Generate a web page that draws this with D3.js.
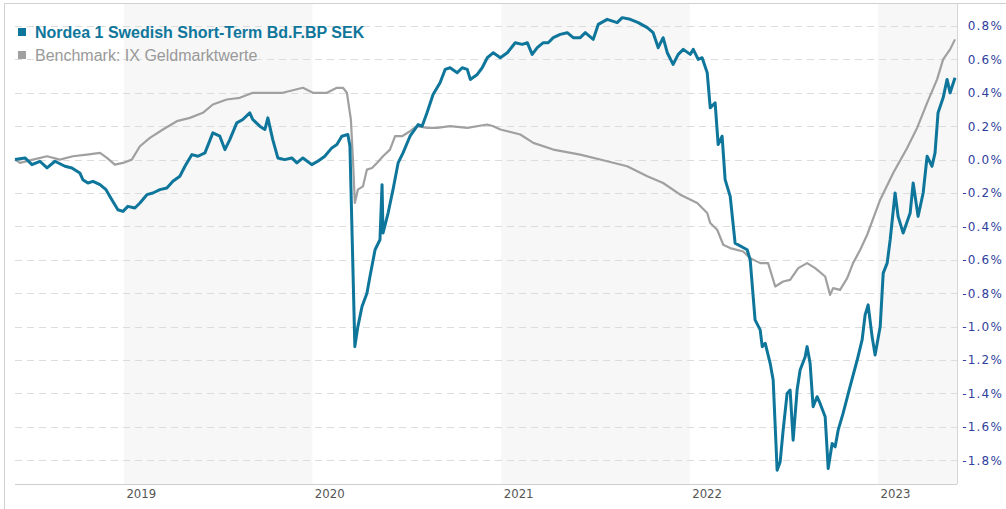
<!DOCTYPE html>
<html><head><meta charset="utf-8">
<script src="https://cdn.jsdelivr.net/npm/d3@7"></script>
<style>body{margin:0;background:#fff;} svg{display:block;}</style>
</head><body><svg id="c" width="1006" height="509"></svg>
<script>
const fundName = "Nordea 1 Swedish Short-Term Bd.F.BP SEK";
const benchName = "Benchmark: IX Geldmarktwerte";
const yTicks = [-1.8,-1.6,-1.4,-1.2,-1.0,-0.8,-0.6,-0.4,-0.2,0.0,0.2,0.4,0.6,0.8];
const xTickYears = [2019,2020,2021,2022,2023];
const shadedYears = [2019,2021,2023];
const startYear = 2018.422, endYear = 2023.408;

// dates as decimal years
const fundDates = [2018.422,2018.475,2018.512,2018.554,2018.592,2018.634,2018.687,2018.724,2018.766,2018.782,2018.809,2018.836,2018.873,2018.905,2018.936,2018.968,2018.995,2019.021,2019.058,2019.085,2019.122,2019.154,2019.191,2019.228,2019.260,2019.297,2019.324,2019.361,2019.393,2019.430,2019.472,2019.509,2019.536,2019.562,2019.599,2019.631,2019.668,2019.684,2019.721,2019.748,2019.764,2019.790,2019.817,2019.854,2019.891,2019.918,2019.950,2019.997,2020.029,2020.066,2020.103,2020.130,2020.156,2020.188,2020.199,2020.225,2020.241,2020.263,2020.289,2020.305,2020.332,2020.358,2020.369,2020.374,2020.401,2020.427,2020.454,2020.480,2020.517,2020.560,2020.581,2020.607,2020.639,2020.676,2020.703,2020.729,2020.767,2020.793,2020.820,2020.836,2020.873,2020.899,2020.926,2020.958,2020.995,2021.032,2021.074,2021.111,2021.138,2021.164,2021.191,2021.223,2021.249,2021.276,2021.313,2021.350,2021.382,2021.419,2021.446,2021.488,2021.515,2021.562,2021.615,2021.642,2021.684,2021.727,2021.775,2021.806,2021.833,2021.859,2021.881,2021.912,2021.939,2021.966,2022.003,2022.019,2022.045,2022.066,2022.093,2022.109,2022.135,2022.151,2022.172,2022.188,2022.215,2022.241,2022.305,2022.321,2022.347,2022.374,2022.385,2022.401,2022.427,2022.443,2022.464,2022.480,2022.496,2022.517,2022.533,2022.549,2022.570,2022.586,2022.613,2022.623,2022.639,2022.655,2022.676,2022.692,2022.719,2022.735,2022.756,2022.772,2022.788,2022.814,2022.851,2022.889,2022.915,2022.931,2022.947,2022.968,2022.984,2023.011,2023.027,2023.048,2023.064,2023.090,2023.106,2023.133,2023.170,2023.186,2023.212,2023.239,2023.260,2023.286,2023.302,2023.318,2023.345,2023.366,2023.382,2023.408];
const fundValues = [0.00,0.01,-0.03,-0.01,-0.05,-0.01,-0.04,-0.05,-0.08,-0.12,-0.14,-0.13,-0.15,-0.18,-0.24,-0.30,-0.31,-0.28,-0.29,-0.26,-0.21,-0.20,-0.18,-0.17,-0.13,-0.10,-0.04,0.03,0.02,0.04,0.16,0.14,0.06,0.12,0.22,0.24,0.28,0.24,0.20,0.18,0.25,0.12,0.01,0.00,0.01,-0.02,0.01,-0.03,-0.01,0.02,0.07,0.09,0.14,0.15,0.08,-1.12,-1.00,-0.88,-0.80,-0.70,-0.54,-0.48,-0.15,-0.44,-0.32,-0.18,-0.02,0.04,0.14,0.21,0.20,0.28,0.39,0.46,0.54,0.55,0.52,0.55,0.54,0.48,0.51,0.55,0.61,0.64,0.61,0.64,0.70,0.69,0.70,0.63,0.67,0.70,0.70,0.73,0.75,0.76,0.73,0.73,0.76,0.72,0.81,0.84,0.82,0.85,0.84,0.82,0.79,0.76,0.67,0.73,0.64,0.57,0.63,0.66,0.63,0.66,0.60,0.61,0.52,0.31,0.34,0.09,0.14,-0.12,-0.22,-0.50,-0.54,-0.60,-0.96,-1.02,-1.12,-1.10,-1.22,-1.32,-1.86,-1.81,-1.62,-1.40,-1.38,-1.68,-1.38,-1.26,-1.18,-1.12,-1.22,-1.48,-1.42,-1.46,-1.54,-1.85,-1.70,-1.72,-1.62,-1.52,-1.36,-1.20,-1.08,-0.93,-0.87,-1.06,-1.17,-1.00,-0.68,-0.62,-0.48,-0.20,-0.34,-0.44,-0.32,-0.14,-0.34,-0.20,0.02,-0.04,0.04,0.28,0.37,0.48,0.40,0.49];

const benchDates = [2018.422,2018.448,2018.517,2018.592,2018.660,2018.729,2018.804,2018.873,2018.910,2018.952,2018.995,2019.042,2019.085,2019.138,2019.207,2019.281,2019.350,2019.419,2019.472,2019.546,2019.615,2019.684,2019.759,2019.843,2019.950,2020.003,2020.077,2020.130,2020.162,2020.183,2020.204,2020.215,2020.225,2020.241,2020.268,2020.289,2020.316,2020.342,2020.374,2020.411,2020.438,2020.475,2020.517,2020.554,2020.607,2020.660,2020.729,2020.820,2020.926,2020.958,2020.995,2021.101,2021.170,2021.276,2021.419,2021.562,2021.668,2021.775,2021.859,2021.950,2022.040,2022.093,2022.109,2022.146,2022.178,2022.215,2022.284,2022.321,2022.374,2022.416,2022.454,2022.496,2022.533,2022.576,2022.623,2022.666,2022.719,2022.745,2022.761,2022.798,2022.836,2022.867,2022.905,2022.942,2023.011,2023.080,2023.154,2023.207,2023.260,2023.313,2023.345,2023.382,2023.408];
const benchValues = [0.00,-0.02,0.00,0.02,0.00,0.02,0.03,0.04,0.01,-0.03,-0.02,0.00,0.08,0.13,0.18,0.23,0.25,0.28,0.33,0.36,0.37,0.40,0.40,0.40,0.43,0.40,0.40,0.43,0.43,0.40,0.24,0.00,-0.26,-0.18,-0.16,-0.06,-0.05,-0.02,0.02,0.06,0.14,0.14,0.17,0.20,0.19,0.19,0.20,0.19,0.21,0.20,0.18,0.15,0.10,0.06,0.03,-0.01,-0.04,-0.10,-0.14,-0.21,-0.26,-0.32,-0.38,-0.42,-0.51,-0.53,-0.55,-0.59,-0.62,-0.62,-0.76,-0.73,-0.72,-0.65,-0.62,-0.65,-0.70,-0.81,-0.77,-0.78,-0.71,-0.62,-0.54,-0.45,-0.24,-0.08,0.07,0.19,0.34,0.48,0.60,0.66,0.72];

function decYear(d){
  const y = Math.floor(d);
  const s = new Date(y,0,1), e = new Date(y+1,0,1);
  return new Date(+s + (d - y) * (e - s));
}
const fund = fundDates.map((d,i)=>({date:decYear(d), v:fundValues[i]}));
const bench = benchDates.map((d,i)=>({date:decYear(d), v:benchValues[i]}));

const svg = d3.select("#c");
const L = 15, R = 957, T = 4, B = 484;

const x = d3.scaleTime().domain([decYear(startYear), decYear(endYear)]).range([15, 955]);
const y = d3.scaleLinear().domain([-1.8, 0.8]).range([460.2, 26]);

// outer frame
svg.append("path").attr("d", `M4.5,509 V3.5 H1006`).attr("fill","none").attr("stroke","#d0d0d0");

// shaded year bands
svg.append("g").selectAll("rect").data(shadedYears).join("rect")
  .attr("x", d => x(new Date(d,0,1)))
  .attr("y", T)
  .attr("width", d => Math.min(R, x(new Date(d+1,0,1))) - x(new Date(d,0,1)))
  .attr("height", B - T)
  .attr("fill", "#f7f7f7");

// grid
svg.append("g").selectAll("line").data(yTicks).join("line")
  .attr("x1", L).attr("x2", R)
  .attr("y1", d => Math.round(y(d)) + 0.5).attr("y2", d => Math.round(y(d)) + 0.5)
  .attr("stroke", "#dcdcdc").attr("stroke-dasharray", "7,5");

// plot right edge & x axis line
svg.append("line").attr("x1", R + 0.5).attr("x2", R + 0.5).attr("y1", T).attr("y2", B).attr("stroke", "#d6d6d6");
svg.append("line").attr("x1", L).attr("x2", R).attr("y1", B + 0.5).attr("y2", B + 0.5).attr("stroke", "#cfcfcf");

// x axis labels
const xAxis = d3.axisBottom(x).tickValues(xTickYears.map(yr => new Date(yr,0,1)))
  .tickSize(0).tickPadding(5).tickFormat(d3.timeFormat("%Y"));
const gx = svg.append("g").attr("transform", `translate(0,${B})`).call(xAxis);
gx.select(".domain").remove();
gx.selectAll("text").attr("text-anchor","start").attr("dx", 2)
  .attr("fill","#555").style("font-family","'DejaVu Sans Condensed','DejaVu Sans',sans-serif").style("font-size","13px");

// y axis labels
const yAxis = d3.axisRight(y).tickValues(yTicks).tickSize(0).tickPadding(0)
  .tickFormat(d => d.toFixed(1) + "%");
const gy = svg.append("g").attr("transform", `translate(${R},0)`).call(yAxis);
gy.select(".domain").remove();
gy.selectAll("text").attr("text-anchor","end").attr("x", 46)
  .attr("fill","#2f409c").style("font-family","'DejaVu Sans',sans-serif").style("font-size","12px")
  .style("letter-spacing","1.2px");

// lines
const line = d3.line().x(d => x(d.date)).y(d => y(d.v));
svg.append("path").datum(bench).attr("d", line).attr("fill","none")
  .attr("stroke","#a0a0a0").attr("stroke-width",2.2).attr("stroke-linejoin","round");
svg.append("path").datum(fund).attr("d", line).attr("fill","none")
  .attr("stroke","#0f769b").attr("stroke-width",3).attr("stroke-linejoin","round");

// legend
const legend = [{name:fundName, color:"#0f769b", text:"#0f769b", weight:"bold"},
                {name:benchName, color:"#a0a0a0", text:"#999999", weight:"normal"}];
const lg = svg.append("g").selectAll("g").data(legend).join("g")
  .attr("transform", (d,i) => `translate(0,${i*23})`);
lg.append("rect").attr("x",18).attr("y",28).attr("width",8).attr("height",8).attr("fill", d => d.color);
lg.append("text").attr("x",35).attr("y",38).text(d => d.name)
  .attr("fill", d => d.text).style("font-weight", d => d.weight)
  .style("font-family","'Liberation Sans',Arial,sans-serif").style("font-size","16px");
</script></body></html>
